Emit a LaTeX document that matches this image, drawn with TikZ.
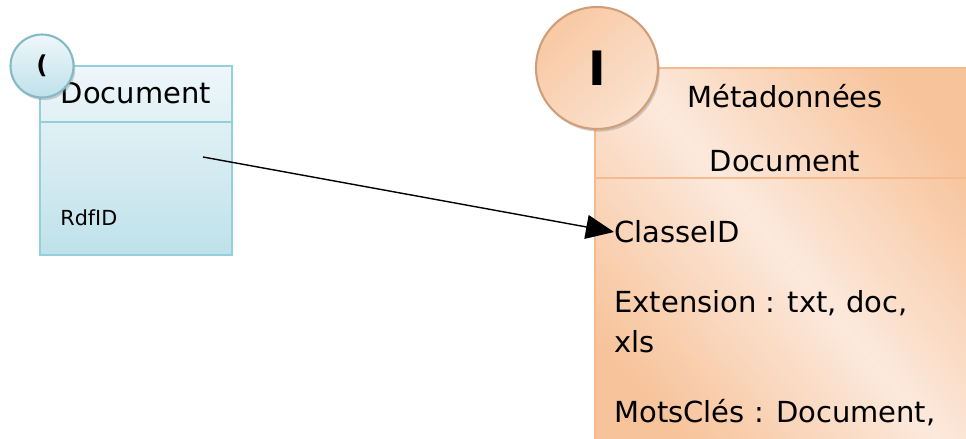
\documentclass[tikz,border=0pt]{standalone}
\usepackage{fontspec}
\setmainfont{DejaVu Sans}
\usetikzlibrary{arrows.meta,shadows}

\definecolor{bluefill}{HTML}{BFE1EA}
\definecolor{bluelight}{HTML}{EEF7FA}
\definecolor{blueline}{HTML}{93CFDC}
\definecolor{peach}{HTML}{F7C39A}
\definecolor{peachlight}{HTML}{FCE9DC}
\definecolor{peachline}{HTML}{F5BA8E}

\begin{document}
\begin{tikzpicture}[
    x=0.02cm, y=-0.02cm,
    title/.style = {font=\fontsize{16.5}{20}\selectfont, inner sep=0pt},
    attr/.style  = {font=\fontsize{16.5}{20}\selectfont, anchor=west, inner sep=0pt},
    bluebox/.style  = {draw=blueline, line width=1.2pt, top color=bluelight, bottom color=bluefill,
                       inner sep=0pt, anchor=north west},
    peachbox/.style = {draw=peachline, line width=1.2pt, left color=peach, right color=peach,
                       middle color=peachlight, shading angle=-50, inner sep=0pt, anchor=north west},
    badge/.style = {shape=circle, line width=1.2pt, inner sep=0pt,
                    drop shadow={shadow xshift=1pt, shadow yshift=-1.5pt, opacity=0.35}}
    ]
    \useasboundingbox (0,0) rectangle (966,439);
    \clip (0,0) rectangle (966,439);

    % Class Document
    \node[bluebox, minimum width=3.84cm, minimum height=3.78cm] (doc) at (39,65) {};
    \draw[blueline, line width=1.2pt] (39,122) -- (231,122);
    \node[title] (doc title) at (136,93) {Document};
    \node[attr, font=\fontsize{11.8}{14}\selectfont] (doc rdf) at (60,218) {RdfID};
    \coordinate (doc link) at (203,157);
    \node[badge, draw=blueline!90!black, top color=bluelight, bottom color=bluefill,
          minimum size=1.26cm] (doc badge) at (42,66) {\fontsize{14}{16}\selectfont\bfseries (};

    % Class Metadonnees Document
    \node[peachbox, minimum width=8cm, minimum height=8cm] (meta) at (594,67) {};
    \draw[peachline, line width=1.2pt] (594,178) -- (966,178);
    \node[title] (meta title) at (785,96) {Métadonnées};
    \node[title] (meta title2) at (785,161) {Document};
    \node[attr] (meta classe) at (614,232) {ClasseID};
    \node[attr] (meta ext)    at (614,303) {Extension : txt, doc,};
    \node[attr] (meta xls)    at (614,342) {xls};
    \node[attr] (meta mots)   at (614,413) {MotsClés : Document,};
    \node[badge, draw=peachline!85!black, left color=peach!90, right color=peachlight!80!peach,
          shading angle=45, minimum size=2.44cm] (meta badge) at (597,68) {\fontsize{27}{30}\selectfont\bfseries I};

    % Link
    \draw[line width=0.8pt, -{Triangle[length=0.56cm, width=0.48cm]}] (doc link) -- (meta classe.west);
\end{tikzpicture}
\end{document}
